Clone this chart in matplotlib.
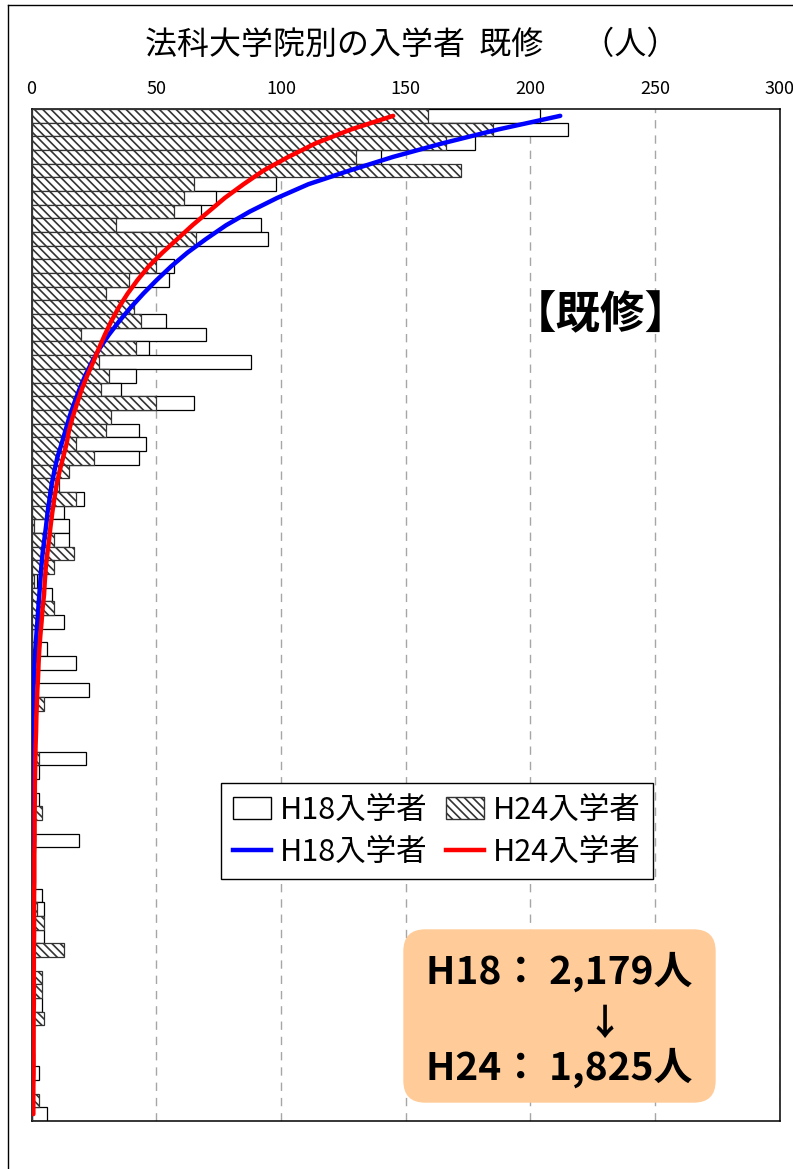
import numpy as np
import matplotlib.pyplot as plt
from matplotlib.patches import Patch, FancyBboxPatch
from matplotlib.lines import Line2D

plt.rcParams['font.family'] = ['Noto Sans CJK JP', 'DejaVu Sans']
plt.rcParams['hatch.linewidth'] = 1.2

# 入学者数（法科大学院別、上から順）
h18 = [204, 215, 178, 140, 45, 98, 74, 68, 92, 95,
       30, 57, 55, 20, 25, 54, 70, 47, 88, 42,
       36, 65, 20, 43, 46, 43, 10, 5, 21, 13,
       15, 15, 5, 4, 2, 8, 3, 13, 0, 6,
       18, 0, 23, 2, 0, 0, 0, 22, 3, 0,
       3, 1, 0, 19, 0, 0, 0, 4, 5, 2,
       5, 3, 0, 1, 1, 4, 2, 0, 0, 1,
       3, 0, 1, 6]
h24 = [159, 185, 166, 130, 172, 65, 61, 57, 34, 66,
       50, 50, 39, 30, 41, 44, 20, 42, 27, 31,
       28, 50, 32, 30, 18, 25, 15, 11, 18, 8,
       1, 9, 17, 9, 1, 3, 9, 3, 0, 2,
       2, 0, 1, 5, 0, 1, 0, 3, 0, 0,
       0, 4, 0, 1, 0, 1, 0, 0, 2, 5,
       0, 13, 1, 4, 4, 0, 5, 1, 0, 0,
       0, 0, 3, 0]

# 近似曲線
h18_curve = [212, 187, 165, 145, 127.5, 111, 98.5, 87.5, 78, 70,
             62.5, 56, 50.2, 44.8, 39.8, 35.2, 31, 27.3, 24.2, 21.5,
             19.2, 17.1, 15.2, 13.6, 12, 10.3, 9.1, 8.0, 7.2, 6.4,
             5.8, 5.1, 4.4, 3.9, 3.5, 3.1, 2.7, 2.3, 1.9, 1.5,
             1.2, 1.0, 0.7, 0.6, 0.4, 0.3, 0.2, 0.1, 0.1, 0.1,
             0.1, 0, 0, 0, 0, 0, 0, 0, 0, 0,
             0, 0, 0, 0, 0, 0, 0, 0, 0, 0,
             0, 0, 0, 0]
h24_curve = [145, 128, 114, 103, 93, 85, 77.5, 71, 64.5, 58.5,
             52.5, 47, 42.5, 38.5, 35, 32, 29.4, 27, 24.7, 22.3,
             20.1, 18.3, 16.5, 15, 14, 12.6, 11.2, 10, 9.1, 8.3,
             7.6, 7.0, 6.3, 5.7, 5.3, 5.0, 4.4, 4.0, 3.5, 3.1,
             2.8, 2.6, 2.3, 2.1, 1.9, 1.8, 1.6, 1.5, 1.4, 1.3,
             1.3, 1.2, 1.2, 1.2, 1.1, 1.1, 1.1, 1.0, 1.0, 1.0,
             1.0, 0.9, 0.9, 0.9, 0.9, 0.9, 0.8, 0.8, 0.8, 0.8,
             0.8, 0.7, 0.7, 0.7]

xticks = [0, 50, 100, 150, 200, 250, 300]
rows = np.arange(len(h18))
HATCH = '\\\\\\\\'

W, H = 793, 1169
fig = plt.figure(figsize=(W / 100, H / 100), dpi=100)
ax = fig.add_axes([31.6 / W, 48 / H, 748.1 / W, 1012 / H])

ax.barh(rows, h18, height=1.0, color='white', edgecolor='black',
        linewidth=0.9, zorder=2)
ax.barh(rows, h24, height=1.0, color='white', edgecolor='#333333',
        hatch=HATCH, linewidth=0.9, zorder=3)

ax.plot(h18_curve, rows, color='#0000FF', lw=3.2, zorder=4, solid_capstyle='round')
ax.plot(h24_curve, rows, color='#FF0000', lw=3.2, zorder=5, solid_capstyle='round')

ax.set_xlim(0, 300)
ax.set_ylim(len(h18) - 0.5, -0.5)
ax.set_xticks(xticks)
ax.set_yticks([])
ax.xaxis.tick_top()
ax.tick_params(axis='x', length=0, pad=8, labelsize=13)
ax.grid(axis='x', color='#A6A6A6', lw=1, ls=(0, (6, 5)))
ax.set_axisbelow(True)
for s in ax.spines.values():
    s.set_color('black')
    s.set_linewidth(1.1)

# タイトル
fig.text(412 / W, 1 - 45 / H, '法科大学院別の入学者  既修　 （人）',
         ha='center', va='center', fontsize=23)
fig.text(601 / W, 1 - 315 / H, '【既修】', ha='center', va='center',
         fontsize=32, fontweight='bold')

# 凡例
handles = [Patch(facecolor='white', edgecolor='black'),
           Line2D([], [], color='#0000FF', lw=3.2),
           Patch(facecolor='white', edgecolor='#333333', hatch=HATCH),
           Line2D([], [], color='#FF0000', lw=3.2)]
labels = ['H18入学者', 'H18入学者', 'H24入学者', 'H24入学者']
leg = ax.legend(handles, labels, ncol=2, loc='upper left',
                bbox_to_anchor=(221 / W, 1 - 783 / H), bbox_transform=fig.transFigure,
                fontsize=22, frameon=True, fancybox=False, edgecolor='black',
                framealpha=1, borderpad=0.38, handlelength=1.25, handleheight=0.7,
                handletextpad=0.3, columnspacing=0.6, labelspacing=0.36,
                borderaxespad=0)
leg.get_frame().set_linewidth(1.0)
leg.set_zorder(10)

# 合計の囲み
box = FancyBboxPatch((403.3 / 100, (H - 1102.7) / 100), 312.4 / 100, 173.4 / 100,
                     boxstyle='round,pad=0,rounding_size=0.22',
                     transform=fig.dpi_scale_trans, facecolor='#FFCC99',
                     edgecolor='none', zorder=5)
fig.add_artist(box)
fig.text(559 / W, 1 - 972 / H, 'H18： 2,179人', ha='center', va='center',
         fontsize=28, fontweight='bold', zorder=6)
fig.text(605 / W, 1 - 1024 / H, '↓', ha='center', va='center',
         fontsize=26, fontweight='bold', zorder=6)
fig.text(559 / W, 1 - 1068 / H, 'H24： 1,825人', ha='center', va='center',
         fontsize=28, fontweight='bold', zorder=6)

# 外枠
fig.add_artist(Line2D([8 / W, 8 / W], [0, 1 - 5 / H], transform=fig.transFigure,
                      color='black', lw=1))
fig.add_artist(Line2D([8 / W, 1], [1 - 5 / H, 1 - 5 / H], transform=fig.transFigure,
                      color='black', lw=1))

fig.savefig('out.png', dpi=100)
